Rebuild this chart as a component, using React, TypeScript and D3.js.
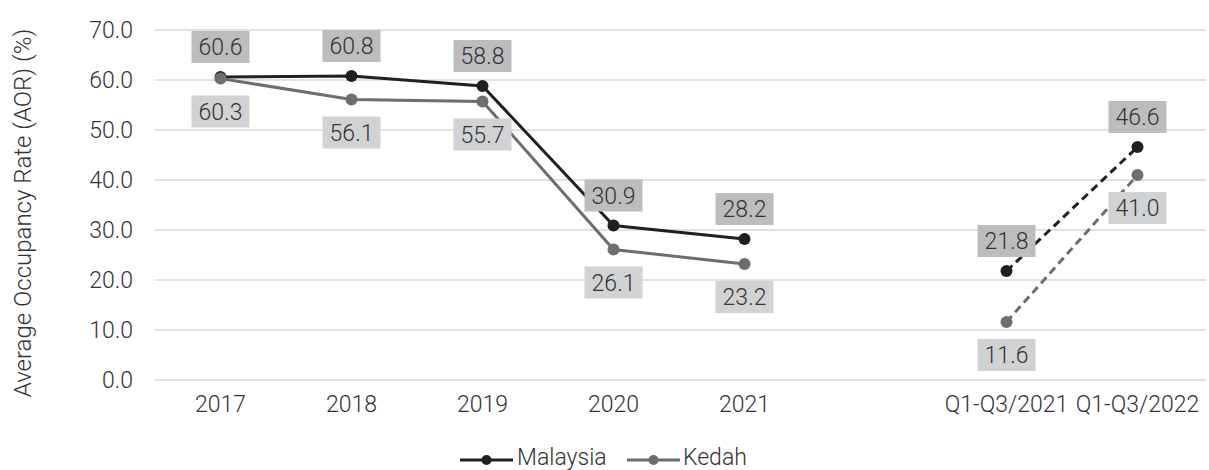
import React from 'react';
import * as d3 from 'd3';

// categories on the x axis (blank slot separates annual from Q1-Q3 figures)
const categories = ['2017', '2018', '2019', '2020', '2021', '', 'Q1-Q3/2021', 'Q1-Q3/2022'];
const malaysia: (number | null)[] = [60.6, 60.8, 58.8, 30.9, 28.2, null, 21.8, 46.6];
const kedah: (number | null)[] = [60.3, 56.1, 55.7, 26.1, 23.2, null, 11.6, 41.0];
const yTicks = [0, 10, 20, 30, 40, 50, 60, 70];

const W = 1209;
const H = 470;
const FONT = 'Roboto, "Liberation Sans", Arial, sans-serif';
const TEXT = '#333333';
const WEIGHT = 300;

interface Series {
  name: string;
  values: (number | null)[];
  color: string;
  box: string;
  labelPos: 'above' | 'below';
}

const series: Series[] = [
  { name: 'Malaysia', values: malaysia, color: '#231f20', box: '#bdbdbf', labelPos: 'above' },
  { name: 'Kedah', values: kedah, color: '#6d6e71', box: '#d1d2d4', labelPos: 'below' },
];

const App: React.FC = () => {
  const x = d3.scaleBand<string>().domain(categories).range([155, 1203]).padding(0);
  const cx = (c: string) => (x(c) ?? 0) + x.bandwidth() / 2;
  const y = d3.scaleLinear().domain([0, 70]).range([380, 30]);

  const isQuarter = (c: string) => c.startsWith('Q');

  const lineFor = (vals: (number | null)[], quarter: boolean) =>
    d3.line<number>()
      .defined(i => vals[i] != null && categories[i] !== '' && isQuarter(categories[i]) === quarter)
      .x(i => cx(categories[i]))
      .y(i => y(vals[i] as number))(categories.map((_, i) => i)) || '';

  return (
    <svg width={W} height={H} style={{ position: 'absolute', left: 0, top: 0 }}
      fontFamily={FONT} fontWeight={WEIGHT}>
      {/* gridlines */}
      {yTicks.map(t => (
        <line key={t} x1={155} x2={1206} y1={y(t)} y2={y(t)} stroke="#d9d9d9" strokeWidth={1.5} />
      ))}
      {yTicks.map(t => (
        <text key={'t' + t} x={133} y={y(t)} dy="0.35em" textAnchor="end" fontSize={23} fill={TEXT}>
          {t.toFixed(1)}
        </text>
      ))}
      {/* x tick labels */}
      {categories.map(c => (
        <text key={'x' + c} x={cx(c)} y={412} textAnchor="middle" fontSize={23} fill={TEXT}>{c}</text>
      ))}
      {/* y axis title */}
      <text transform={`translate(23,213) rotate(-90)`} textAnchor="middle" dy="0.35em" fontSize={24} fill={TEXT}>
        Average Occupancy Rate (AOR) (%)
      </text>

      {/* lines and markers */}
      {series.map(s => (
        <g key={s.name}>
          <path d={lineFor(s.values, false)} fill="none" stroke={s.color} strokeWidth={3} />
          <path d={lineFor(s.values, true)} fill="none" stroke={s.color} strokeWidth={3} strokeDasharray="8,5" />
          {s.values.map((v, i) => v == null ? null : (
            <circle key={i} cx={cx(categories[i])} cy={y(v)} r={6} fill={s.color} />
          ))}
        </g>
      ))}

      {/* data labels */}
      {series.map(s => (
        <g key={'l' + s.name}>
          {s.values.map((v, i) => {
            if (v == null) return null;
            const px = cx(categories[i]);
            const py = y(v) + (s.labelPos === 'above' ? -30 : 33);
            return (
              <g key={i}>
                <rect x={px - 29} y={py - 16} width={58} height={32} fill={s.box} />
                <text x={px} y={py} dy="0.36em" textAnchor="middle" fontSize={23} fill={TEXT}>
                  {v.toFixed(1)}
                </text>
              </g>
            );
          })}
        </g>
      ))}

      {/* legend */}
      <g>
        <line x1={460} x2={513} y1={460} y2={460} stroke={series[0].color} strokeWidth={3} />
        <circle cx={486.5} cy={460} r={5} fill={series[0].color} />
        <text x={517} y={465} fontSize={23} fill={TEXT}>Malaysia</text>
        <line x1={627} x2={680} y1={460} y2={460} stroke={series[1].color} strokeWidth={3} />
        <circle cx={653.5} cy={460} r={5} fill={series[1].color} />
        <text x={683} y={465} fontSize={23} fill={TEXT}>Kedah</text>
      </g>
    </svg>
  );
};

export default App;
